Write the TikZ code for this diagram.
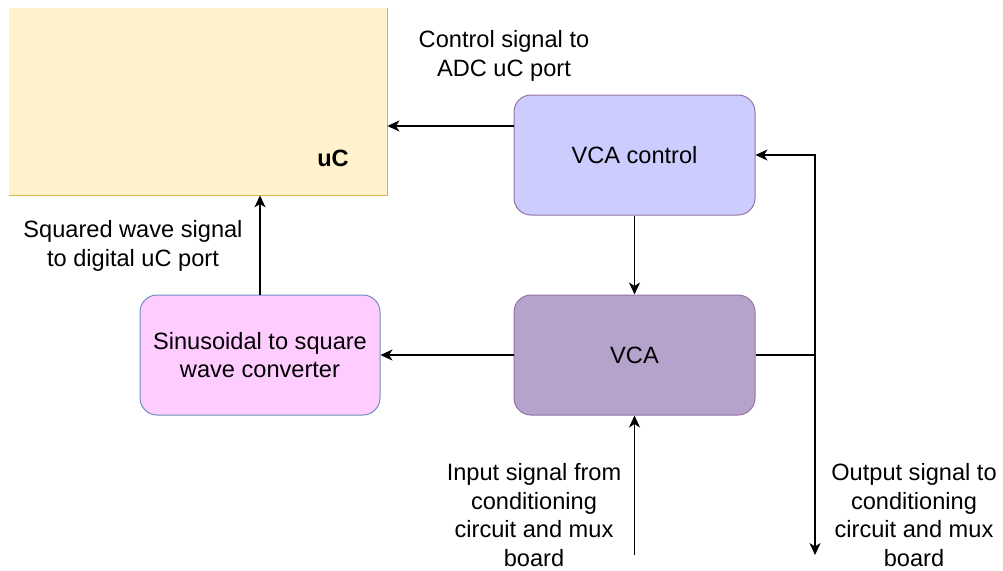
\documentclass[tikz,border=0pt]{standalone}
\usepackage{fontspec}
\setmainfont{Liberation Sans}
\usetikzlibrary{arrows.meta,calc}
\definecolor{ucfill}{HTML}{FFF2CC}
\definecolor{ucline}{HTML}{D6B656}
\definecolor{ctlfill}{HTML}{CCCCFF}
\definecolor{vcafill}{HTML}{B5A3CB}
\definecolor{purpline}{HTML}{9673A6}
\definecolor{convfill}{HTML}{FFCCFF}
\definecolor{convline}{HTML}{6C8EBF}
\tikzset{
  block/.style={rounded corners=17pt, line width=1pt, minimum width=241pt,
    minimum height=120pt, align=center, inner sep=0pt},
  arr/.style={line width=1.5pt, -{Stealth[length=12pt,width=11pt,inset=3.5pt]}},
  wire/.style={line width=1.5pt},
  lbl/.style={align=center, inner sep=0pt},
}
\begin{document}
\begin{tikzpicture}[x=1pt, y=-1pt, font=\fontsize{23.6}{28.5}\selectfont]
\useasboundingbox (0,0) rectangle (1003,570);

% microcontroller area
\node[fill=ucfill, minimum width=378pt, minimum height=187pt, inner sep=0pt,
      anchor=north west] (uc) at (9,8) {};
\draw[ucline, line width=1pt] (uc.north east) -- (uc.south east) -- (uc.south west);
\node[font=\fontsize{23.6}{28}\selectfont\bfseries] (uclabel) at (333,158) {uC};

% blocks
\node[block, draw=purpline, fill=ctlfill] (ctl) at (634.5,155) {VCA control};
\node[block, draw=purpline, fill=vcafill] (vca) at (634.5,355) {VCA};
\node[block, draw=convline, fill=convfill, minimum width=240pt] (conv) at (260,355)
  {Sinusoidal to square\\wave converter};

% free ends and junction
\coordinate (jn) at (815,355);
\coordinate (outend) at (815,555);
\coordinate (inend) at (634.5,555);

% connectors
\draw[arr] (ctl.west |- 0,126) -- (uc.east |- 0,126);
\draw[arr] (ctl.south) -- (vca.north);
\draw[arr] (vca.west) -- (conv.east);
\draw[arr] (conv.north) -- (uc.south -| conv.north);
\draw[wire] (vca.east) -- (jn);
\draw[arr] (jn) -- (jn |- ctl.east) -- (ctl.east);
\draw[arr] (jn) -- (outend);
\draw[arr] (inend) -- (vca.south);

% labels
\node[lbl] (l1) at (504,56) {Control signal to\\ADC uC port};
\node[lbl] (l2) at (133,246) {Squared wave signal\\to digital uC port};
\node[lbl] (l3) at (534,515) {Input signal from\\conditioning\\circuit and mux\\board};
\node[lbl] (l4) at (914,515) {Output signal to\\conditioning\\circuit and mux\\board};
\end{tikzpicture}
\end{document}
